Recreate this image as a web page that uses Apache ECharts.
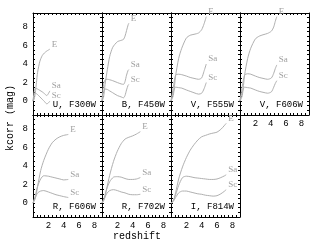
<!DOCTYPE html>
<html>
<head>
<meta charset="utf-8">
<script src="https://cdn.jsdelivr.net/npm/echarts@6/dist/echarts.min.js"></script>
<style>
html, body { margin: 0; padding: 0; background: #fff; }
#main { width: 329px; height: 246px; }
</style>
</head>
<body>
<div id="main"></div>
<script>
// redshift samples and k-corrections (mag)
var zU = [0, 0.15, 0.3, 0.45, 0.6, 0.9, 1.2, 1.5, 1.8, 2.0, 2.2];
var eU = [0, 0.2, 0.9, 2.0, 3.1, 4.3, 4.9, 5.2, 5.4, 5.5, 5.6];
var saU = [0, 1.0, 1.4, 1.35, 1.3, 1.15, 1.0, 0.8, 0.6, 0.8, 1.1];
var scU = [0, 0.6, 0.9, 0.8, 0.7, 0.45, 0.2, -0.05, -0.3, -0.2, 0.0];

var zB = [0, 0.2, 0.4, 0.7, 1.0, 1.4, 2.0, 2.5, 2.8, 3.0, 3.2, 3.4, 3.5];
var eB = [0, 0.4, 1.8, 3.4, 4.8, 5.8, 6.4, 6.55, 6.65, 7.0, 7.6, 8.2, 8.4];
var saB = [0, 1.8, 2.3, 2.35, 2.3, 2.2, 2.0, 1.85, 1.8, 2.1, 2.8, 3.3, 3.4];
var scB = [0, 1.0, 1.3, 1.25, 1.1, 0.9, 0.6, 0.45, 0.35, 0.6, 1.2, 1.7, 1.8];

var zV5 = [0, 0.3, 0.6, 1.0, 1.4, 2.0, 2.5, 3.0, 3.6, 4.0, 4.3, 4.6];
var eV5 = [0, 0.6, 2.7, 4.6, 5.7, 6.8, 7.1, 7.2, 7.35, 7.7, 8.3, 9.1];
var saV5 = [0, 1.5, 2.8, 2.9, 2.85, 2.7, 2.55, 2.45, 2.35, 2.5, 3.2, 4.0];
var scV5 = [0, 1.0, 1.5, 1.45, 1.4, 1.2, 1.05, 0.9, 0.75, 0.85, 1.3, 2.0];

var zV6 = [0, 0.3, 0.6, 1.0, 1.4, 2.0, 2.5, 3.0, 3.6, 4.1, 4.4, 4.6, 4.8];
var eV6 = [0, 0.6, 2.8, 4.6, 5.7, 6.7, 7.0, 7.15, 7.3, 7.55, 8.0, 8.6, 9.1];
var saV6 = [0, 1.6, 2.8, 2.95, 2.9, 2.7, 2.55, 2.45, 2.35, 2.5, 3.0, 3.5, 3.9];
var scV6 = [0, 1.0, 1.5, 1.45, 1.4, 1.2, 1.05, 0.95, 0.85, 1.0, 1.5, 1.9, 2.2];

var zR6 = [0, 0.3, 0.6, 1.0, 1.4, 2.0, 2.5, 3.0, 3.5, 4.0, 4.6];
var eR6 = [0, 0.5, 1.8, 3.5, 4.6, 5.8, 6.5, 6.9, 7.15, 7.3, 7.4];
var saR6 = [0, 0.8, 1.8, 2.6, 2.95, 2.9, 2.8, 2.7, 2.6, 2.5, 2.55];
var scR6 = [0, 0.6, 1.1, 1.3, 1.35, 1.2, 1.05, 0.9, 0.8, 0.7, 0.6];

var zR7 = [0, 0.3, 0.6, 1.0, 1.5, 2.0, 2.5, 3.0, 3.5, 4.0, 4.5, 5.0];
var eR7 = [0, 0.4, 1.5, 3.0, 4.5, 5.6, 6.4, 6.9, 7.1, 7.25, 7.45, 7.7];
var saR7 = [0, 0.6, 1.5, 2.3, 2.8, 2.85, 2.8, 2.65, 2.55, 2.55, 2.6, 2.75];
var scR7 = [0, 0.5, 1.0, 1.35, 1.45, 1.35, 1.2, 1.1, 0.95, 0.9, 0.9, 0.95];

var zI = [0, 0.3, 0.6, 1.0, 1.5, 2.0, 2.5, 3.0, 3.5, 4.0, 4.5, 5.0, 5.5, 6.0, 6.5, 7.0, 7.2];
var eI = [0, 0.2, 1.1, 2.6, 3.9, 4.9, 5.7, 6.3, 6.8, 7.15, 7.3, 7.45, 7.55, 7.65, 7.95, 8.4, 8.6];
var saI = [0, 0.3, 0.9, 1.9, 2.75, 2.9, 2.85, 2.75, 2.7, 2.65, 2.6, 2.55, 2.55, 2.6, 2.75, 2.95, 3.05];
var scI = [0, 0.2, 0.6, 1.1, 1.3, 1.3, 1.2, 1.1, 1.0, 0.95, 0.85, 0.8, 0.75, 0.8, 1.0, 1.3, 1.45];

var titles = ['U, F300W', 'B, F450W', 'V, F555W', 'V, F606W', 'R, F606W', 'R, F702W', 'I, F814W'];
var typeNames = ['E', 'Sa', 'Sc'];
var xTicks = [2, 4, 6, 8];
var yTicks = [0, 2, 4, 6, 8];

var panels = [
    {z: zU, k: [eU, saU, scU], row: 0, col: 0, xLab: false, yLab: true},
    {z: zB, k: [eB, saB, scB], row: 0, col: 1, xLab: false, yLab: false},
    {z: zV5, k: [eV5, saV5, scV5], row: 0, col: 2, xLab: false, yLab: false},
    {z: zV6, k: [eV6, saV6, scV6], row: 0, col: 3, xLab: true, yLab: false},
    {z: zR6, k: [eR6, saR6, scR6], row: 1, col: 0, xLab: true, yLab: true},
    {z: zR7, k: [eR7, saR7, scR7], row: 1, col: 1, xLab: true, yLab: false},
    {z: zI, k: [eI, saI, scI], row: 1, col: 2, xLab: true, yLab: false}
];

// layout
var LEFT = 33, TOP = 13, PW = 69, PH = 102;
var FONT = 'Liberation Mono';

function hasTick(list, v) {
    for (var i = 0; i < list.length; i++) {
        if (Math.abs(list[i] - v) < 1e-6) return true;
    }
    return false;
}

function xAxisOf(i, pos, showLabel) {
    return {
        type: 'value', gridIndex: i, position: pos,
        min: 0, max: 9, interval: 0.5,
        axisLine: {show: true, onZero: false, lineStyle: {color: '#000', width: 1}},
        axisTick: {show: true, inside: true, length: 2, lineStyle: {color: '#000', width: 1}},
        axisLabel: {
            show: showLabel, margin: 4, fontSize: 9, fontFamily: FONT, color: '#000',
            formatter: function (v) { return hasTick(xTicks, v) ? String(Math.round(v)) : ''; }
        },
        splitLine: {show: false}
    };
}

function yAxisOf(i, pos, showLabel) {
    return {
        type: 'value', gridIndex: i, position: pos,
        min: -1.5, max: 9.5, interval: 0.5,
        axisLine: {show: true, onZero: false, lineStyle: {color: '#000', width: 1}},
        axisTick: {show: true, inside: true, length: 2, lineStyle: {color: '#000', width: 1}},
        axisLabel: {
            show: showLabel, margin: 5, fontSize: 9, fontFamily: FONT, color: '#000',
            formatter: function (v) { return hasTick(yTicks, v) ? String(Math.round(v)) : ''; }
        },
        splitLine: {show: false}
    };
}

var grids = [], xAxes = [], yAxes = [], series = [], graphics = [];

panels.forEach(function (p, i) {
    var gl = LEFT + p.col * PW, gt = TOP + p.row * PH;
    grids.push({left: gl, top: gt, width: PW, height: PH, containLabel: false});
    xAxes.push(xAxisOf(i, 'bottom', p.xLab));
    xAxes.push(xAxisOf(i, 'top', false));
    yAxes.push(yAxisOf(i, 'left', p.yLab));
    yAxes.push(yAxisOf(i, 'right', false));

    p.k.forEach(function (vals, t) {
        var data = p.z.map(function (z, j) { return [z, vals[j]]; });
        series.push({
            type: 'line', name: typeNames[t],
            xAxisIndex: 2 * i, yAxisIndex: 2 * i,
            data: data, showSymbol: false, smooth: 0.25,
            lineStyle: {color: '#b0b0b0', width: 1},
            endLabel: {
                show: true, formatter: typeNames[t], distance: 2, offset: [0, -5],
                color: '#a0a0a0', fontSize: 9, fontFamily: 'Liberation Serif'
            },
            silent: true
        });
    });

    graphics.push({
        type: 'text', x: gl + PW - 6, y: gt + PH - 10,
        style: {text: titles[i], align: 'right', verticalAlign: 'middle',
            font: '9px "' + FONT + '"', fill: '#000'}
    });
});

graphics.push({
    type: 'text', x: 10, y: 118, rotation: Math.PI / 2,
    style: {text: 'kcorr (mag)', align: 'center', verticalAlign: 'middle',
        font: '10px "' + FONT + '"', fill: '#000'}
});
graphics.push({
    type: 'text', x: 137, y: 236,
    style: {text: 'redshift', align: 'center', verticalAlign: 'middle',
        font: '10px "' + FONT + '"', fill: '#000'}
});

var chart = echarts.init(document.getElementById('main'));
chart.setOption({
    animation: false,
    backgroundColor: '#fff',
    grid: grids,
    xAxis: xAxes,
    yAxis: yAxes,
    series: series,
    graphic: graphics
});
</script>
</body>
</html>
